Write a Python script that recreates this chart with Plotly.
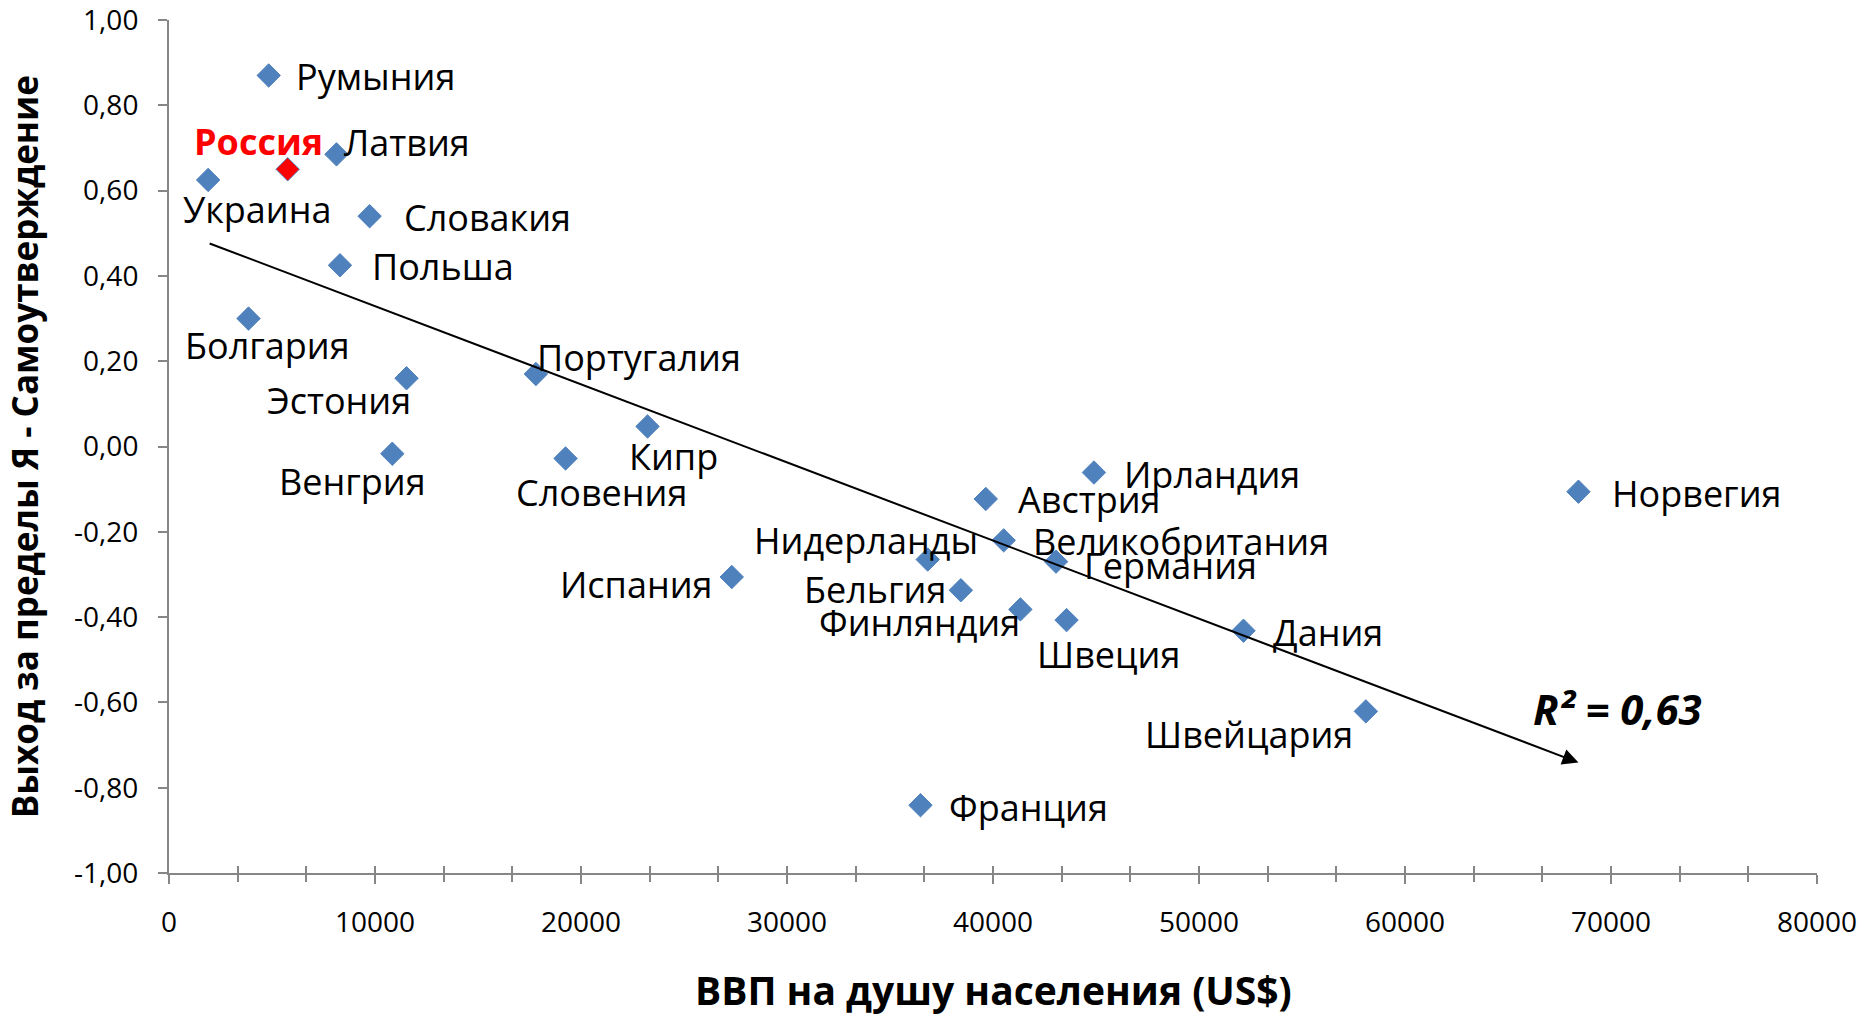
import numpy as np
import plotly.graph_objects as go

# countries, GDP per capita (US$) and "Self-transcendence - Self-enhancement" score
countries = ["Румыния", "Россия", "Латвия", "Украина", "Словакия", "Польша", "Болгария",
             "Эстония", "Португалия", "Кипр", "Венгрия", "Словения", "Испания",
             "Нидерланды", "Бельгия", "Финляндия", "Швеция", "Великобритания",
             "Германия", "Австрия", "Ирландия", "Дания", "Швейцария", "Франция", "Норвегия"]
gdp = [4840, 5760, 8130, 1900, 9740, 8300, 3860, 11530, 17810, 23230, 10840, 19250, 27320,
       36830, 38440, 41330, 43570, 40520, 43060, 39650, 44900, 52160, 58100, 36480, 68420]
score = [0.87, 0.65, 0.685, 0.625, 0.54, 0.425, 0.30, 0.16, 0.17, 0.047, -0.017, -0.028,
         -0.306, -0.265, -0.337, -0.382, -0.407, -0.220, -0.270, -0.123, -0.061, -0.432,
         -0.621, -0.841, -0.106]
highlight = "Россия"
r2_text = "R² = 0,63"

y_ticks = [-1.0, -0.8, -0.6, -0.4, -0.2, 0.0, 0.2, 0.4, 0.6, 0.8, 1.0]
y_labels = ["-1,00", "-0,80", "-0,60", "-0,40", "-0,20", "0,00", "0,20", "0,40", "0,60", "0,80", "1,00"]
x_ticks = [0, 10000, 20000, 30000, 40000, 50000, 60000, 70000, 80000]

# label placement: (xanchor, xshift px, yshift px)
label_pos = [("left", 25, -1), ("center", -29, 28), ("left", 6, 12), ("center", 49, -30),
             ("left", 32, -1), ("left", 30, -1), ("center", 19, -27), ("right", 6, -22),
             ("left", -1, 17), ("center", 26, -30), ("right", 36, -28), ("center", 36, -34),
             ("right", -17, -7), ("center", -62, 19), ("right", -13, 1), ("right", 2, -13),
             ("center", 42, -34), ("left", 27, -1), ("left", 26, -4), ("left", 30, -1),
             ("left", 28, -2), ("left", 27, -2), ("right", -11, -23), ("left", 27, -2),
             ("left", 32, -2)]

FONT = "Open Sans"
AXIS_GREY = "#868686"
BLUE = "#4F81BD"

colors = ["#FF0000" if c == highlight else BLUE for c in countries]

fig = go.Figure()
fig.add_trace(go.Scatter(
    x=gdp, y=score, mode="markers", showlegend=False,
    marker=dict(symbol="diamond", size=18, color=colors, line=dict(width=1, color=BLUE)),
))
# invisible trace on the overlay axis so the crossing tick marks get drawn
fig.add_trace(go.Scatter(x=[0], y=[0], xaxis="x2", mode="markers",
                         marker=dict(opacity=0), showlegend=False, hoverinfo="skip"))

# point labels
for c, xv, yv, (anc, dx, dy) in zip(countries, gdp, score, label_pos):
    red = c == highlight
    fig.add_annotation(
        x=xv, y=yv, text=f"<b>{c}</b>" if red else c, showarrow=False,
        xanchor=anc, yanchor="middle", xshift=dx, yshift=dy,
        font=dict(family=FONT, size=36, color="#FF0000" if red else "black"),
    )

# linear trend line, drawn as an arrow from min to max GDP
k, b = np.polyfit(gdp, score, 1)
x0, x1 = min(gdp), max(gdp)
fig.add_annotation(
    x=x1, y=k * x1 + b, ax=x0, ay=k * x0 + b, xref="x", yref="y", axref="x", ayref="y",
    text="", showarrow=True, arrowhead=2, arrowsize=1.6, arrowwidth=2, arrowcolor="black",
    standoff=0, startstandoff=0,
)
fig.add_annotation(
    x=70300, y=-0.615, text=f"<b><i>{r2_text}</i></b>", showarrow=False,
    xanchor="center", yanchor="middle",
    font=dict(family=FONT, size=42, color="black"),
)

# axis titles
fig.add_annotation(
    xref="paper", yref="paper", x=-0.103, y=0.5, textangle=-90, showarrow=False,
    text="<b>Выход за пределы Я - Самоутверждение</b>",
    font=dict(family=FONT, size=35, color="black"),
)
fig.add_annotation(
    xref="paper", yref="paper", x=0.5, y=-0.17, showarrow=False,
    text="<b>ВВП на душу населения (US$)</b>",
    font=dict(family=FONT, size=39, color="black"),
)

fig.update_layout(
    width=1862, height=1017,
    margin=dict(l=169, r=45, t=20, b=144),
    plot_bgcolor="white", paper_bgcolor="white",
    font=dict(family=FONT, color="black"),
    xaxis=dict(
        range=[0, 80000], tickvals=x_ticks, tickformat="d", automargin=False,
        showgrid=False, zeroline=False, ticklabeloverflow="allow",
        showline=True, linecolor=AXIS_GREY, linewidth=2,
        ticks="outside", ticklen=9, tickwidth=2, tickcolor=AXIS_GREY,
        minor=dict(ticks="outside", dtick=10000 / 3, ticklen=7, tickwidth=2, tickcolor=AXIS_GREY),
        tickfont=dict(family=FONT, size=28, color="black"), ticklabelstandoff=14,
    ),
    xaxis2=dict(
        overlaying="x", matches="x", range=[0, 80000], side="bottom", anchor="y",
        tickmode="linear", tick0=0, dtick=10000 / 3, automargin=False,
        ticks="inside", ticklen=7, tickwidth=2, tickcolor=AXIS_GREY,
        showticklabels=False, showgrid=False, zeroline=False, showline=False,
    ),
    yaxis=dict(
        range=[-1, 1], tickvals=y_ticks, ticktext=y_labels, automargin=False,
        showgrid=False, zeroline=False, ticklabeloverflow="allow",
        showline=True, linecolor=AXIS_GREY, linewidth=2,
        ticks="outside", ticklen=9, tickwidth=2, tickcolor=AXIS_GREY,
        tickfont=dict(family=FONT, size=28, color="black"), ticklabelstandoff=14,
    ),
)

fig.write_html("out.html", config={"displayModeBar": False},
               post_script="document.body.style.margin='0';")
